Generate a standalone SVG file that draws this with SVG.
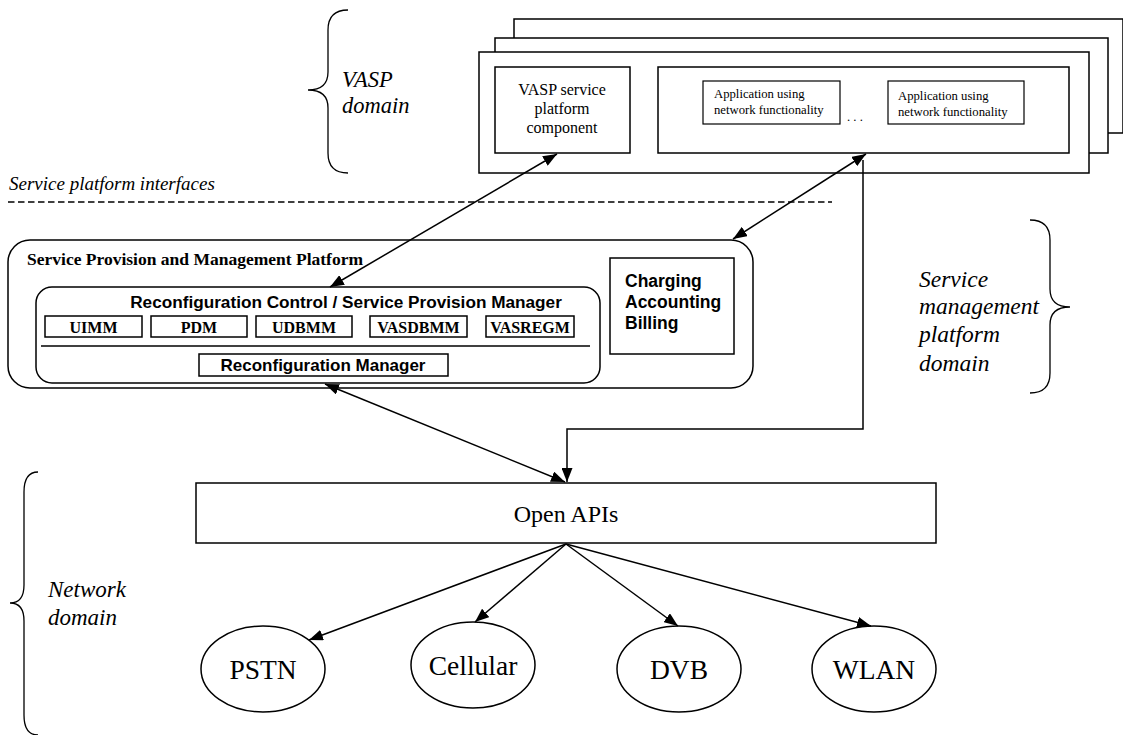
<svg xmlns="http://www.w3.org/2000/svg" width="1123" height="735" viewBox="0 0 1123 735">
  <defs>
    <marker id="arr" viewBox="0 0 14 11" refX="14" refY="5.5" markerWidth="14" markerHeight="11" markerUnits="userSpaceOnUse" orient="auto-start-reverse">
      <path d="M0,0 L14,5.5 L0,11 z" fill="#000"/>
    </marker>
    <style>
      .box { fill: #fff; stroke: #000; stroke-width: 1.5; }
      .thin { fill: #fff; stroke: #000; stroke-width: 1.2; }
      .line { fill: none; stroke: #000; stroke-width: 1.5; }
      .brace { fill: none; stroke: #000; stroke-width: 1.3; }
      .serif { font-family: "Liberation Serif", "Times New Roman", serif; fill: #000; }
      .sans { font-family: "Liberation Sans", Arial, sans-serif; fill: #000; }
      .ital { font-family: "Liberation Serif", "Times New Roman", serif; font-style: italic; fill: #000; }
      .mod { font-family: "Liberation Serif", "Times New Roman", serif; font-weight: bold; font-size: 16px; text-anchor: middle; }
      .net { font-family: "Liberation Serif", "Times New Roman", serif; font-size: 27.5px; text-anchor: middle; fill: #000; }
    </style>
  </defs>

  <!-- domain braces and labels -->
  <g id="vasp-domain">
    <path class="brace" d="M348,10 Q328,10 328,30 L328,72 Q328,90 308,90 Q328,90 328,108 L328,153 Q328,173 348,173"/>
    <text class="ital" x="342" y="87" font-size="22.5">VASP</text>
    <text class="ital" x="342" y="113" font-size="22.5">domain</text>
  </g>

  <g id="service-domain">
    <path class="brace" d="M1030,220 Q1050,220 1050,240 L1050,289 Q1050,307 1070,307 Q1050,307 1050,325 L1050,373 Q1050,393 1030,393"/>
    <text class="ital" x="919" y="287" font-size="23.5">Service</text>
    <text class="ital" x="919" y="314" font-size="23.5">management</text>
    <text class="ital" x="919" y="342" font-size="23.5">platform</text>
    <text class="ital" x="919" y="371" font-size="23.5">domain</text>
  </g>

  <g id="network-domain">
    <path class="brace" d="M38,472 Q24,472 24,492 L24,585 Q24,603 10,603 Q24,603 24,621 L24,715 Q24,735 38,735"/>
    <text class="ital" x="48" y="597" font-size="23">Network</text>
    <text class="ital" x="48" y="625" font-size="23">domain</text>
  </g>

  <!-- interface boundary -->
  <g id="interfaces">
    <text class="ital" x="9" y="190" font-size="19">Service platform interfaces</text>
    <line x1="8" y1="202" x2="832" y2="202" stroke="#000" stroke-width="1.6" stroke-dasharray="6.5,3.5"/>
  </g>

  <!-- VASP stacked frames -->
  <g id="vasp-stack">
    <path class="box" d="M514,133 L514,19 L1123,19 L1123,133 Z"/>
    <rect class="box" x="495" y="38" width="613" height="115"/>
    <rect class="box" x="479" y="52" width="610" height="121"/>
  </g>

  <g id="vasp-component">
    <rect class="box" x="495" y="67" width="135" height="86"/>
    <text class="serif" font-size="16" text-anchor="middle" x="562" y="95">VASP service</text>
    <text class="serif" font-size="16" text-anchor="middle" x="562" y="114">platform</text>
    <text class="serif" font-size="16" text-anchor="middle" x="562" y="133">component</text>
  </g>

  <g id="applications">
    <rect class="box" x="658" y="67" width="411" height="86"/>
    <rect class="thin" x="703" y="81" width="137" height="43"/>
    <text class="serif" font-size="12.7" x="714" y="98">Application using</text>
    <text class="serif" font-size="12.7" x="714" y="114">network functionality</text>
    <text class="serif" font-size="12.7" x="847" y="121">. . .</text>
    <rect class="thin" x="888" y="81" width="136" height="43"/>
    <text class="serif" font-size="12.7" x="898" y="100">Application using</text>
    <text class="serif" font-size="12.7" x="898" y="116">network functionality</text>
  </g>

  <!-- service provision and management platform -->
  <g id="spmp">
    <rect class="box" x="8" y="240" width="745" height="148" rx="22" ry="22"/>
    <text class="serif" font-size="17.5" font-weight="bold" x="27" y="265">Service Provision and Management Platform</text>
  </g>

  <g id="rc-spm">
    <rect class="box" x="36" y="287" width="564" height="96" rx="16" ry="16"/>
    <text class="sans" font-size="17.2" font-weight="bold" text-anchor="middle" x="346" y="308">Reconfiguration Control / Service Provision Manager</text>
    <line x1="41" y1="346" x2="590" y2="346" stroke="#000" stroke-width="1.3"/>
  </g>

  <g id="modules">
    <rect class="box" x="45" y="316" width="97" height="21"/>
    <text class="mod" x="93.5" y="333">UIMM</text>
    <rect class="box" x="151" y="316" width="96" height="21"/>
    <text class="mod" x="199" y="333">PDM</text>
    <rect class="box" x="256" y="316" width="96" height="21"/>
    <text class="mod" x="304" y="333">UDBMM</text>
    <rect class="box" x="370" y="316" width="97" height="21"/>
    <text class="mod" x="418.5" y="333">VASDBMM</text>
    <rect class="box" x="486" y="316" width="88" height="21"/>
    <text class="mod" x="530" y="333">VASREGM</text>
  </g>

  <g id="reconfiguration-manager">
    <rect class="box" x="199" y="354" width="249" height="22"/>
    <text class="sans" font-size="17" font-weight="bold" text-anchor="middle" x="323" y="371">Reconfiguration Manager</text>
  </g>

  <g id="charging">
    <rect class="box" x="610" y="258" width="124" height="96"/>
    <text class="sans" font-size="17.5" font-weight="bold" x="625" y="287">Charging</text>
    <text class="sans" font-size="17.5" font-weight="bold" x="625" y="308">Accounting</text>
    <text class="sans" font-size="17.5" font-weight="bold" x="625" y="329">Billing</text>
  </g>

  <!-- network layer -->
  <g id="open-apis">
    <rect class="box" x="196" y="483" width="740" height="60"/>
    <text class="serif" font-size="24" text-anchor="middle" x="566" y="522">Open APIs</text>
  </g>

  <g id="pstn">
    <ellipse class="box" cx="263" cy="669" rx="62" ry="43"/>
    <text class="net" x="263" y="679">PSTN</text>
  </g>
  <g id="cellular">
    <ellipse class="box" cx="473" cy="665" rx="62" ry="43"/>
    <text class="net" x="473" y="675">Cellular</text>
  </g>
  <g id="dvb">
    <ellipse class="box" cx="679" cy="669" rx="62" ry="43"/>
    <text class="net" x="679" y="679">DVB</text>
  </g>
  <g id="wlan">
    <ellipse class="box" cx="874" cy="669" rx="62" ry="43"/>
    <text class="net" x="874" y="679">WLAN</text>
  </g>

  <!-- connectors -->
  <g id="connectors">
    <line class="line" x1="557" y1="154" x2="330" y2="287" marker-start="url(#arr)" marker-end="url(#arr)"/>
    <line class="line" x1="866" y1="154" x2="733" y2="239" marker-start="url(#arr)" marker-end="url(#arr)"/>
    <polyline class="line" points="863,160 863,429 567,429 567,482" marker-end="url(#arr)"/>
    <line class="line" x1="325" y1="384" x2="565" y2="482" marker-start="url(#arr)" marker-end="url(#arr)"/>
    <line class="line" x1="566" y1="544" x2="309" y2="640" marker-end="url(#arr)"/>
    <line class="line" x1="566" y1="544" x2="475" y2="622" marker-end="url(#arr)"/>
    <line class="line" x1="566" y1="544" x2="678" y2="626" marker-end="url(#arr)"/>
    <line class="line" x1="566" y1="544" x2="871" y2="626" marker-end="url(#arr)"/>
  </g>
</svg>
